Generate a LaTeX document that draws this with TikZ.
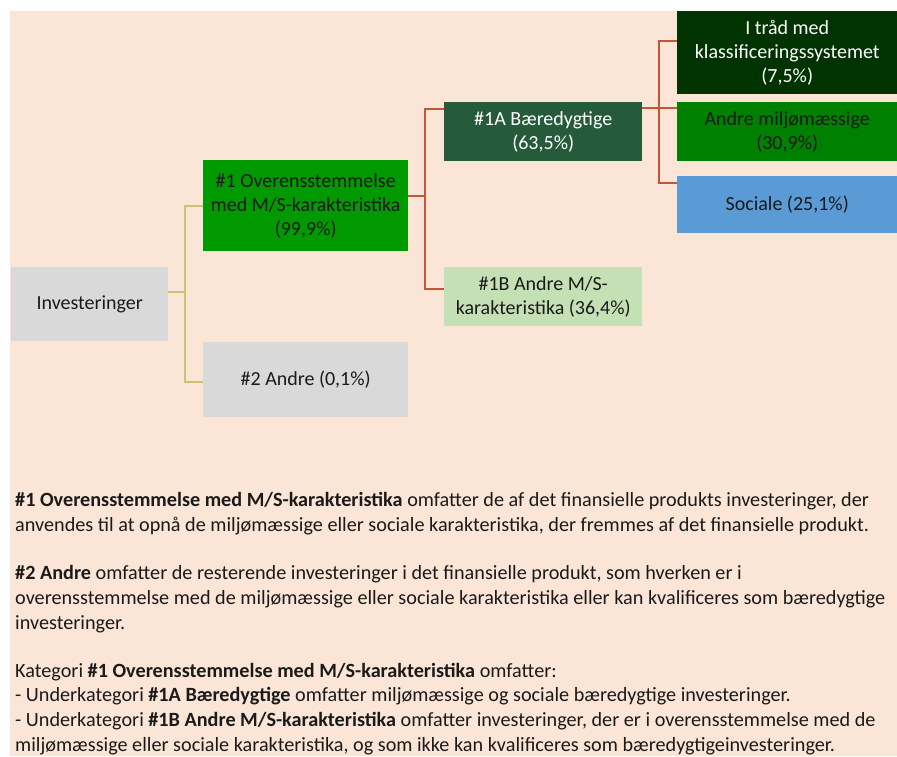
\documentclass[tikz,border=0pt]{standalone}
\usepackage{fontspec}
\setmainfont{Carlito}
\usetikzlibrary{calc}
\definecolor{bgpeach}{HTML}{FBE5D6}
\definecolor{boxgrey}{HTML}{D9D9D9}
\definecolor{greenA}{HTML}{009900}
\definecolor{greenB}{HTML}{008000}
\definecolor{darkA}{HTML}{255A3A}
\definecolor{darkB}{HTML}{003300}
\definecolor{lightG}{HTML}{C5E0B4}
\definecolor{blueS}{HTML}{5B9BD5}
\definecolor{oliveL}{RGB}{204,194,122}
\definecolor{redL}{RGB}{197,85,55}
\definecolor{txt}{HTML}{1A1A1A}
\begin{document}
\begin{tikzpicture}[x=1pt,y=1pt,
  box/.style={anchor=north west,inner sep=0pt,align=center,text=txt,
    font=\fontsize{20}{24}\selectfont},
  para/.style={anchor=base west,inner sep=0pt,align=left,text=txt,
    font=\fontsize{20.2}{24.6}\selectfont},
  oline/.style={draw=oliveL,line width=2pt},
  rline/.style={draw=redL,line width=2pt}]
\useasboundingbox (0,0) rectangle (897,-756);
\fill[bgpeach] (10,-11) rectangle (897,-756);
% boxes
\node[box,fill=boxgrey,minimum width=157,minimum height=74] (inv) at (11,-267) {Investeringer};
\node[box,fill=greenA,minimum width=205,minimum height=91] (n1) at (203,-160) {\#1 Overensstemmelse\\med M/S-karakteristika\\(99,9\%)};
\node[box,fill=boxgrey,minimum width=205,minimum height=75] (n2) at (203,-342) {\#2 Andre (0,1\%)};
\node[box,fill=darkA,text=white,minimum width=198,minimum height=59] (n1a) at (444,-102) {\#1A Bæredygtige\\(63,5\%)};
\node[box,fill=lightG,minimum width=198,minimum height=59] (n1b) at (444,-267) {\#1B Andre M/S-\\karakteristika (36,4\%)};
\node[box,fill=darkB,text=white,minimum width=220,minimum height=83] (tr) at (677,-11) {I tråd med\\klassificeringssystemet\\(7,5\%)};
\node[box,fill=greenB,minimum width=220,minimum height=59] (am) at (677,-102) {Andre miljømæssige\\(30,9\%)};
\node[box,fill=blueS,minimum width=220,minimum height=57] (so) at (677,-176) {Sociale (25,1\%)};
% connectors
\coordinate (ja) at (185,-292);
\draw[oline] (inv.east |- ja) -- (ja);
\draw[oline] (ja) |- ($(n1.north west)+(0,-46)$);
\draw[oline] (ja) |- ($(n2.north west)+(0,-40)$);
\coordinate (jb) at (425,-196);
\draw[rline] (n1.east |- jb) -- (jb);
\draw[rline] (jb) |- ($(n1a.north west)+(0,-7)$);
\draw[rline] (jb) |- ($(n1b.north west)+(0,-22)$);
\coordinate (jc) at (659,-108);
\draw[rline] (n1a.east |- jc) -- (jc);
\draw[rline] (jc) |- ($(tr.north west)+(0,-30)$);
\draw[rline] (jc) -- (am.west |- jc);
\draw[rline] (jc) |- ($(so.north west)+(0,-7)$);
% text (anchored at the baseline of the last line)
\node[para] (p1) at (15,-531) {\textbf{\#1 Overensstemmelse med M/S-karakteristika} omfatter de af det finansielle produkts investeringer, der\\anvendes til at opnå de miljømæssige eller sociale karakteristika, der fremmes af det finansielle produkt.};
\node[para] (p2) at (15,-629) {\textbf{\#2 Andre} omfatter de resterende investeringer i det finansielle produkt, som hverken er i\\overensstemmelse med de miljømæssige eller sociale karakteristika eller kan kvalificeres som bæredygtige\\investeringer.};
\node[para] (p3) at (15,-751) {Kategori \textbf{\#1 Overensstemmelse med M/S-karakteristika} omfatter:\\- Underkategori \textbf{\#1A Bæredygtige} omfatter miljømæssige og sociale bæredygtige investeringer.\\- Underkategori \textbf{\#1B Andre M/S-karakteristika} omfatter investeringer, der er i overensstemmelse med de\\miljømæssige eller sociale karakteristika, og som ikke kan kvalificeres som bæredygtigeinvesteringer.};
\end{tikzpicture}
\end{document}
